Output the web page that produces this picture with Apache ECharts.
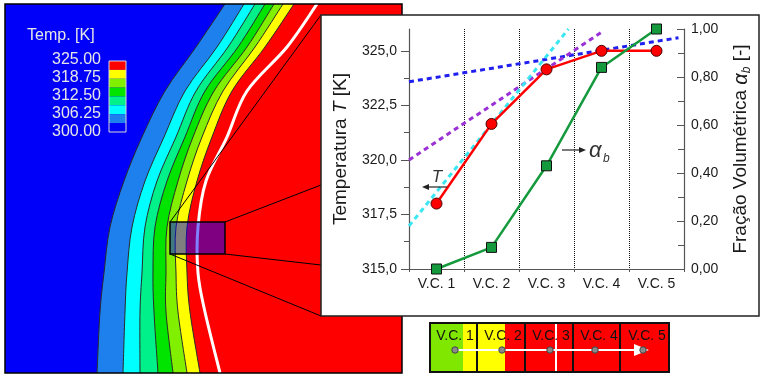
<!DOCTYPE html>
<html>
<head>
<meta charset="utf-8">
<script src="https://cdn.jsdelivr.net/npm/echarts@6/dist/echarts.min.js"></script>
<style>
  html, body { margin: 0; padding: 0; background: #fff; }
  #c { width: 760px; height: 374px; }
</style>
</head>
<body>
<div id="c"></div>
<script>
// ---- profile across the control volumes ----
const cells = ['V.C. 1', 'V.C. 2', 'V.C. 3', 'V.C. 4', 'V.C. 5'];
const temperature = [318.0, 321.65, 324.15, 325.0, 325.0];      // T [K]
const volumeFraction = [0.00, 0.09, 0.43, 0.84, 1.00];          // alpha_b [-]

// tangent lines, x measured in control-volume widths from the left axis
const tangentBlue = [[0, 323.58], [4.9, 325.6]];
const tangentPurple = [[0, 320.0], [3.5, 325.85]];
const tangentCyan = [[0, 316.97], [2.9, 326.0]];

// axis ticks
const tempTicks = [315, 317.5, 320, 322.5, 325];
const tempMinorTicks = [316.25, 318.75, 321.25, 323.75];

// ---- temperature field (image units, x to the right, y downwards) ----
const contourRows = [0, 43, 87, 133, 177, 223, 269, 308, 369];
const iso303 = [220, 191, 160, 137, 119, 105, 99, 95, 92];
const iso306 = [239, 212, 180, 159, 140, 127, 122, 120, 118];
const iso309 = [250, 223, 191, 171, 152, 140, 137, 135, 135];
const iso312 = [260, 233, 200, 180, 162, 150, 148, 149, 153];
const iso315 = [269, 242, 209, 188, 173, 162, 161, 161, 168];
const iso318 = [278, 250, 218, 197, 182, 171, 171, 173, 182];
const iso321 = [289, 260, 227, 207, 192, 182, 182, 185, 195];
const interfaceLine = [312, 282, 242, 222, 201, 193, 193, 200, 215];
const legendLevels = ['325.00', '318.75', '312.50', '306.25', '300.00'];

// ---- styling ----
const FONT = 'Liberation Sans, Arial, Helvetica, sans-serif';
const bandColors = ['#0000fa', '#1e80ec', '#00ffff', '#00f08a', '#00e400', '#80f000', '#ffff00', '#ff0000'];
const AXIS = '#555';
const comma = (v, d) => v.toFixed(d).replace('.', ',');
const isolines = [iso303, iso306, iso309, iso312, iso315, iso318, iso321];

// smooth path through points (Catmull-Rom as cubic Bezier)
function smoothPath(pts) {
  let d = 'M' + pts[0][0] + ',' + pts[0][1];
  for (let i = 0; i < pts.length - 1; i++) {
    const p0 = pts[i - 1] || pts[i], p1 = pts[i], p2 = pts[i + 1], p3 = pts[i + 2] || pts[i + 1];
    const c1 = [p1[0] + (p2[0] - p0[0]) / 6, p1[1] + (p2[1] - p0[1]) / 6];
    const c2 = [p2[0] - (p3[0] - p1[0]) / 6, p2[1] - (p3[1] - p1[1]) / 6];
    d += ' C' + c1[0] + ',' + c1[1] + ' ' + c2[0] + ',' + c2[1] + ' ' + p2[0] + ',' + p2[1];
  }
  return d;
}

function renderField(params, api) {
  const P = (x, y) => api.coord([x, y]);
  const tl = P(0, 0), br = P(397, 369);
  const children = [{
    type: 'rect',
    shape: { x: tl[0], y: tl[1], width: br[0] - tl[0], height: br[1] - tl[1] },
    style: { fill: bandColors[0] }
  }];
  const curve = iso => contourRows.map((y, i) => P(iso[i], y));
  isolines.forEach((iso, k) => {
    const pts = curve(iso);
    const d = smoothPath(pts) + ' L' + (br[0] + 10) + ',' + pts[pts.length - 1][1] +
      ' L' + (br[0] + 10) + ',' + pts[0][1] + ' Z';
    children.push({ type: 'path', shape: { pathData: d }, style: { fill: bandColors[k + 1] } });
  });
  isolines.forEach(iso => {
    children.push({ type: 'path', shape: { pathData: smoothPath(curve(iso)) },
      style: { fill: 'none', stroke: '#2a2a2a', lineWidth: 1 } });
  });
  children.push({ type: 'path', shape: { pathData: smoothPath(curve(interfaceLine)) },
    style: { fill: 'none', stroke: '#ffffff', lineWidth: 3 } });
  return { type: 'group', children };
}

// ---- decorations: frames, zoom window, colour bar, sketch of the cells ----
const graphics = [];
graphics.push({ type: 'rect', z: 1, shape: { x: 5, y: 4, width: 397, height: 369 },
  style: { fill: 'none', stroke: '#000', lineWidth: 1.5 } });
graphics.push({ type: 'rect', z: 1, shape: { x: 170, y: 222, width: 55, height: 32 },
  style: { fill: 'rgba(0,0,255,0.5)', stroke: '#000', lineWidth: 1.5 } });
[[170, 222, 321, 15], [225, 222, 321, 185], [225, 254, 321, 265], [170, 254, 321, 316]].forEach(s => {
  graphics.push({ type: 'line', z: 1, shape: { x1: s[0], y1: s[1], x2: s[2], y2: s[3] },
    style: { stroke: '#000', lineWidth: 1 } });
});
graphics.push({ type: 'rect', z: 2, shape: { x: 321, y: 15, width: 438, height: 301 },
  style: { fill: '#fff', stroke: '#222', lineWidth: 1.5 } });

// colour bar
const barColors = bandColors.slice().reverse();
barColors.forEach((c, i) => {
  graphics.push({ type: 'rect', z: 1, shape: { x: 109, y: 61 + i * 8.875, width: 17, height: 8.875 },
    style: { fill: c } });
});
graphics.push({ type: 'rect', z: 1, shape: { x: 109, y: 61, width: 17, height: 71 },
  style: { fill: 'none', stroke: '#d8d8d8', lineWidth: 1 } });
graphics.push({ type: 'text', z: 1, x: 27, y: 36,
  style: { text: 'Temp. [K]', fill: '#e6e6e6', font: '16px ' + FONT, align: 'left', verticalAlign: 'middle' } });
legendLevels.forEach((t, i) => {
  graphics.push({ type: 'text', z: 1, x: 101, y: 60 + i * 17.9,
    style: { text: t, fill: '#e6e6e6', font: '16px ' + FONT, align: 'right', verticalAlign: 'middle' } });
});

// curve annotations
graphics.push({ type: 'text', z: 9, x: 437, y: 177,
  style: { text: 'T', fill: '#333', font: 'italic 17px ' + FONT, align: 'center', verticalAlign: 'middle' } });
graphics.push({ type: 'line', z: 9, shape: { x1: 447, y1: 187, x2: 427, y2: 187 }, style: { stroke: '#222', lineWidth: 1.2 } });
graphics.push({ type: 'polygon', z: 9, shape: { points: [[422, 187], [429, 184], [429, 190]] }, style: { fill: '#222' } });
graphics.push({ type: 'line', z: 9, shape: { x1: 562, y1: 150, x2: 581, y2: 150 }, style: { stroke: '#222', lineWidth: 1.2 } });
graphics.push({ type: 'polygon', z: 9, shape: { points: [[586, 150], [579, 147], [579, 153]] }, style: { fill: '#222' } });
graphics.push({ type: 'text', z: 9, x: 589, y: 151,
  style: { text: 'α', fill: '#333', font: 'italic 22px ' + FONT, align: 'left', verticalAlign: 'middle' } });
graphics.push({ type: 'text', z: 9, x: 603, y: 159,
  style: { text: 'b', fill: '#333', font: 'italic 12px ' + FONT, align: 'left', verticalAlign: 'middle' } });

// sketch of the five control volumes
const sk = { x: 430, y: 323, w: 239, h: 49 };
graphics.push({ type: 'rect', z: 1, shape: { x: sk.x, y: sk.y, width: sk.w, height: sk.h }, style: { fill: '#ff0000' } });
graphics.push({ type: 'rect', z: 1, shape: { x: 430, y: sk.y, width: 33, height: sk.h }, style: { fill: '#80e800' } });
graphics.push({ type: 'rect', z: 1, shape: { x: 463, y: sk.y, width: 42, height: sk.h }, style: { fill: '#ffff00' } });
graphics.push({ type: 'line', z: 1, shape: { x1: 556, y1: sk.y, x2: 556, y2: sk.y + sk.h }, style: { stroke: '#fff', lineWidth: 2 } });
[477, 525, 573, 620].forEach(x => {
  graphics.push({ type: 'line', z: 1, shape: { x1: x, y1: sk.y, x2: x, y2: sk.y + sk.h }, style: { stroke: '#111', lineWidth: 2 } });
});
graphics.push({ type: 'rect', z: 1, shape: { x: sk.x, y: sk.y, width: sk.w, height: sk.h },
  style: { fill: 'none', stroke: '#111', lineWidth: 2 } });
graphics.push({ type: 'line', z: 1, shape: { x1: 455, y1: 350, x2: 637, y2: 350 }, style: { stroke: '#fff', lineWidth: 2 } });
graphics.push({ type: 'polygon', z: 1, shape: { points: [[649, 350], [634, 344], [634, 356]] }, style: { fill: '#fff' } });
[455, 502, 550, 595, 643].forEach(x => {
  graphics.push({ type: 'circle', z: 1, shape: { cx: x, cy: 350, r: 3.2 }, style: { fill: '#8a8a8a', stroke: '#444', lineWidth: 1 } });
});
cells.forEach((t, i) => {
  graphics.push({ type: 'text', z: 1, x: 455 + i * 48, y: 336,
    style: { text: t, fill: '#111', font: '14px ' + FONT, align: 'center', verticalAlign: 'middle' } });
});

const chart = echarts.init(document.getElementById('c'));
chart.setOption({
  animation: false,
  backgroundColor: '#fff',
  textStyle: { fontFamily: FONT },
  grid: [
    { left: 409, top: 29, width: 275, height: 240, containLabel: false },
    { left: 5, top: 4, width: 397, height: 369, containLabel: false }
  ],
  xAxis: [
    {
      type: 'category', gridIndex: 0, data: cells, boundaryGap: true, z: 5,
      axisLine: { lineStyle: { color: AXIS, width: 1.2 } },
      axisTick: { show: true, length: 3, lineStyle: { color: AXIS } },
      axisLabel: { fontSize: 14, color: '#1a1a1a', margin: 8, fontFamily: FONT },
      splitLine: { show: true, lineStyle: { color: '#111', type: 'dotted', width: 1 } }
    },
    { type: 'value', gridIndex: 0, min: 0, max: 5, show: false },
    { type: 'value', gridIndex: 1, min: 0, max: 397, show: false }
  ],
  yAxis: [
    {
      type: 'value', gridIndex: 0, position: 'left', min: 315, max: 326, z: 5,
      name: 'Temperatura {i|T} [K]', nameLocation: 'middle', nameRotate: 90, nameGap: 59,
      nameTextStyle: { fontSize: 19, color: '#1a1a1a', fontFamily: FONT,
        rich: { i: { fontSize: 19, fontStyle: 'italic', color: '#1a1a1a', fontFamily: FONT } } },
      axisLine: { show: true, lineStyle: { color: AXIS, width: 1.2 } },
      axisTick: { show: true, length: 8, customValues: tempTicks, lineStyle: { color: AXIS } },
      axisLabel: { customValues: tempTicks, fontSize: 14, color: '#1a1a1a', margin: 12, fontFamily: FONT,
        formatter: v => comma(v, 1) },
      splitLine: { show: false }
    },
    {
      type: 'value', gridIndex: 0, position: 'left', min: 315, max: 326, z: 5,
      axisLine: { show: false },
      axisTick: { show: true, length: 5, customValues: tempMinorTicks, lineStyle: { color: AXIS } },
      axisLabel: { show: false },
      splitLine: { show: false }
    },
    {
      type: 'value', gridIndex: 0, position: 'right', min: 0, max: 1, interval: 0.2, z: 5,
      name: 'Fração Volumétrica {a|α}{b|b} [-]', nameLocation: 'middle', nameRotate: 90, nameGap: 45,
      nameTextStyle: { fontSize: 19, color: '#1a1a1a', fontFamily: FONT, lineHeight: 24,
        rich: {
          a: { fontSize: 20, fontStyle: 'italic', color: '#1a1a1a', fontFamily: FONT, lineHeight: 24 },
          b: { fontSize: 12, fontStyle: 'italic', color: '#1a1a1a', fontFamily: FONT, lineHeight: 12, verticalAlign: 'bottom' }
        } },
      axisLine: { show: true, lineStyle: { color: AXIS, width: 1.2 } },
      axisTick: { show: true, inside: true, length: 7, lineStyle: { color: AXIS } },
      minorTick: { show: true, splitNumber: 2, length: 6, lineStyle: { color: AXIS } },
      axisLabel: { fontSize: 14, color: '#1a1a1a', margin: 7, fontFamily: FONT, formatter: v => comma(v, 2) },
      splitLine: { show: false }
    },
    { type: 'value', gridIndex: 1, min: 0, max: 369, inverse: true, show: false }
  ],
  graphic: { elements: graphics },
  series: [
    {
      type: 'custom', name: 'field', xAxisIndex: 2, yAxisIndex: 3, z: 0, silent: true, clip: true,
      data: [[0, 0]], renderItem: renderField
    },
    {
      type: 'line', name: 'tangent 4', xAxisIndex: 1, yAxisIndex: 0, data: tangentBlue, z: 6,
      symbol: 'none', silent: true, lineStyle: { color: '#1f1ff0', width: 3, type: [5, 4] }
    },
    {
      type: 'line', name: 'tangent 3', xAxisIndex: 1, yAxisIndex: 0, data: tangentPurple, z: 6,
      symbol: 'none', silent: true, lineStyle: { color: '#9a30d6', width: 3, type: [5, 4] }
    },
    {
      type: 'line', name: 'tangent 2', xAxisIndex: 1, yAxisIndex: 0, data: tangentCyan, z: 6,
      symbol: 'none', silent: true, lineStyle: { color: '#3ae6f2', width: 3, type: [5, 4] }
    },
    {
      type: 'line', name: 'T', xAxisIndex: 0, yAxisIndex: 0, data: temperature, z: 7,
      symbol: 'circle', symbolSize: 11,
      lineStyle: { color: '#ff0000', width: 2.5 },
      itemStyle: { color: '#ff0000', borderColor: '#4a0000', borderWidth: 1 }
    },
    {
      type: 'line', name: 'alpha_b', xAxisIndex: 0, yAxisIndex: 2, data: volumeFraction, z: 7,
      symbol: 'rect', symbolSize: 10,
      lineStyle: { color: '#149a3c', width: 2.5 },
      itemStyle: { color: '#149a3c', borderColor: '#111', borderWidth: 1 }
    }
  ]
});
</script>
</body>
</html>
